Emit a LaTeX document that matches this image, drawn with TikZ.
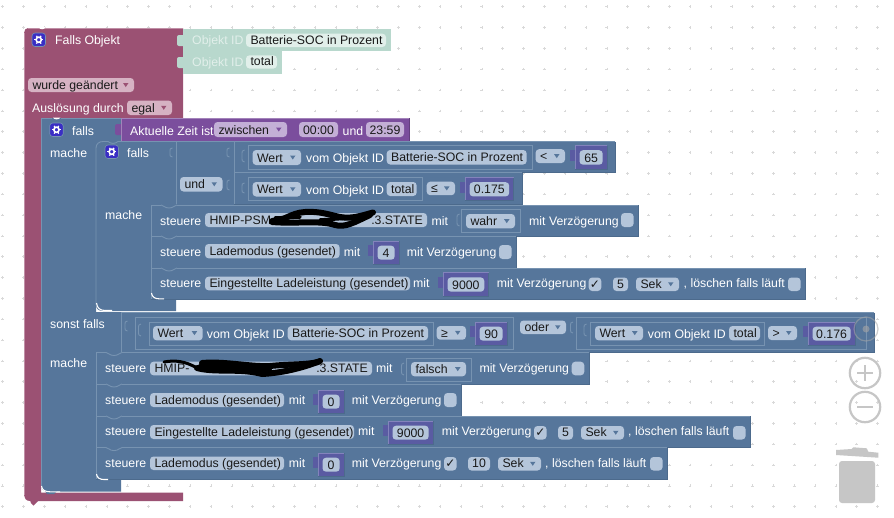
\documentclass[tikz,border=0pt]{standalone}
\usepackage{fontspec}
\setmainfont{Liberation Sans}
\newfontfamily\bkdejavu{DejaVu Sans}
\definecolor{bkblue}{HTML}{56769B}
\definecolor{bkhl}{HTML}{7793B1}
\definecolor{bkdk}{HTML}{4C6A8C}
\definecolor{bkmag}{HTML}{9B5173}
\definecolor{bkmaghl}{HTML}{C08FA6}
\definecolor{bkmint}{HTML}{B8D8CD}
\definecolor{bkmintp}{HTML}{E1EFEA}
\definecolor{bkpur}{HTML}{7B4E9D}
\definecolor{bkpurp}{HTML}{C3AFD6}
\definecolor{bknum}{HTML}{5A5BA2}
\definecolor{bknumhl}{HTML}{8383BC}
\definecolor{bkpill}{HTML}{B4C5DA}
\definecolor{bkpink}{HTML}{D6B2C3}
\definecolor{bkgear}{HTML}{3A2EC4}
\definecolor{bkgrey}{HTML}{C6C6C6}
\newcounter{bkn}
\tikzset{
  wtxt/.style={anchor=base west,inner sep=0pt,text=white,font=\fontsize{12.3}{14}\selectfont},
  ktxt/.style={anchor=base west,inner sep=0pt,text=black!90,font=\fontsize{12.3}{14}\selectfont},
  ctxt/.style={anchor=base,inner sep=0pt,text=black!90,font=\fontsize{12.3}{14}\selectfont},
  etxt/.style={anchor=base east,inner sep=0pt,text=black!90,font=\fontsize{12.3}{14}\selectfont},
  mtxt/.style={anchor=base west,inner sep=0pt,text=bkmintp,font=\fontsize{12.3}{14}\selectfont},
  hline/.style={draw=bkhl,line width=.9pt},
  dline/.style={draw=bkdk,line width=.9pt},
  scrib/.style={draw=black,line width=6pt,line cap=round,line join=round}
}
\newcommand\bkTxt[3]{\stepcounter{bkn}\node[wtxt] (t\arabic{bkn}) at (#1,#2) {#3};}
\newcommand\bkMint[3]{\stepcounter{bkn}\node[mtxt] (t\arabic{bkn}) at (#1,#2) {#3};}
\newcommand\bkEnd[3]{\stepcounter{bkn}\node[etxt] (t\arabic{bkn}) at (#1,#2) {#3};}
\newcommand\bkPill[6]{\fill[#6,rounded corners=3.5pt] (#1,#3) rectangle (#2,#4);
  \stepcounter{bkn}\node[ktxt] (t\arabic{bkn}) at (#1+4.3,#4-2.6) {#5};}
\newcommand\bkCtr[6]{\fill[#6,rounded corners=3.5pt] (#1,#3) rectangle (#2,#4);
  \stepcounter{bkn}\node[ctxt] (t\arabic{bkn}) at ({(#1+#2)/2},#4-2.6) {#5};}
\newcommand\bkDrop[7]{\bkPill{#1}{#2}{#3}{#4}{#5}{#6}
  \fill[#7] (#2-11,{(#3+#4)/2-2}) -- (#2-5.5,{(#3+#4)/2-2}) -- (#2-8.25,{(#3+#4)/2+2}) -- cycle;}
\newcommand\bkCheck[3]{\fill[bkpill,rounded corners=3.5pt] (#1,#2) rectangle (#1+12.6,#3);}
\newcommand\bkTick[3]{\bkCheck{#1}{#2}{#3}
  \stepcounter{bkn}\node[ctxt,font=\bkdejavu\fontsize{12}{14}\selectfont] (t\arabic{bkn}) at (#1+6.3,#3-2.6) {✓};}
\newcommand\bkBev[7]{\fill[#5] (#1,#2) rectangle (#3,#4);
  \draw[#6,line width=.9pt] (#1,#4) -- (#1,#2) -- (#3,#2);
  \draw[#7,line width=.9pt] (#3,#2) -- (#3,#4) -- (#1,#4);}
\newcommand\bkStmt[4]{\bkBev{#1}{#2}{#3}{#4}{bkblue}{bkhl}{bkdk}
  \draw[bkblue,line width=1.2pt] (#1+10,#2) -- (#1+26,#2);
  \draw[hline] (#1+10,#2) .. controls (#1+13,#2) and (#1+13,#2+3) .. (#1+18,#2+3) .. controls (#1+23,#2+3) and (#1+23,#2) .. (#1+26,#2);}
\newcommand\bkOut[4]{\draw[hline] (#1,#4) -- (#1,#2) -- (#3,#2) -- (#3,#4) -- cycle;}
\newcommand\bkSock[3]{\draw[hline] (#1,#2) .. controls (#1-2.5,#2) and (#1-2.5,#2+1) .. (#1-2.5,{(#2+#3)/2}) .. controls (#1-2.5,#3-1) and (#1-2.5,#3) .. (#1,#3);}
\newcommand\bkNum[5]{\fill[bknum] (#1-5.5,#3+4) rectangle (#1,#3+15);
  \bkBev{#1}{#3}{#2}{#4}{bknum}{bknumhl}{bkdk}
  \bkCtr{#1+4.5}{#2-4.3}{#3+4.7}{#4-4.3}{#5}{bkpill}}
\newcommand\bkGear[2]{\fill[bkgear,draw=bkhl,line width=.6pt,rounded corners=3pt] (#1,#2) rectangle (#1+13.5,#2+13.5);
  \draw[white,line width=1.6pt] (#1+6.75,#2+6.75) circle (2.6pt);
  \foreach \bka in {0,60,...,300}{\draw[white,line width=1.3pt] (#1+6.75,#2+6.75) ++(\bka:2.9pt) -- ++(\bka:1.6pt);}}
\begin{document}
\begin{tikzpicture}[x=1pt,y=-1pt]
\useasboundingbox (0,0) rectangle (894,517);
\fill[white] (0,0) rectangle (894,517);
\foreach \bki in {0,...,42}{\foreach \bkj in {0,...,24}{
  \draw[black!15,line width=.5pt] ({2.7+20.83*\bki-1.3},{6.7+20.83*\bkj}) -- ++(2.6,0) ({2.7+20.83*\bki},{6.7+20.83*\bkj-1.3}) -- ++(0,2.6);}}
% zoom controls and bin
\draw[bkgrey,line width=2.2pt] (865,373) circle (15.2pt);
\draw[bkgrey,line width=2.2pt] (865,407) circle (15.2pt);
\draw[bkgrey,line width=2.2pt] (857,373) -- (873,373) (865,365) -- (865,381);
\draw[bkgrey,line width=2.2pt] (857,407) -- (873,407);
\fill[bkgrey] (836,450) -- (851.7,449) -- (853.3,447.3) -- (866.7,448.3) -- (868.3,451.7) -- (878.3,452.7) -- (878.3,457.7) -- (836,455) -- cycle;
\fill[bkgrey,rounded corners=3pt] (839,461) -- (875,461) -- (875,503) -- (839,503) -- cycle;
% magenta hat block
\fill[bkmag] (30,500) -- (31,503) -- (33.5,505.5) -- (36,503) -- (39,500) -- cycle;
\fill[bkmag] (28,28) -- (183,28) -- (183,118) -- (41,118) -- (41,492.5) -- (183,492.5) -- (183,501) -- (30,501) .. controls (26,501) and (24,498) .. (24,495) -- (24,33) .. controls (24,30) and (26,28) .. (28,28) -- cycle;
\draw[bkmaghl,line width=.7pt] (28,28) -- (183,28);
\draw[bkmaghl,line width=.7pt] (24,33) -- (24,495);
\fill[white] (38.5,27) .. controls (40,30) and (44,30) .. (46,27) -- cycle;
\bkGear{32}{33}
\bkTxt{55}{44.8}{Falls Objekt}
\bkDrop{28}{134}{78}{92}{wurde geändert}{bkpink}{bkmag}
\bkTxt{32}{112}{Auslösung durch}
\bkDrop{127}{172}{100.5}{115}{egal}{bkpink}{bkmag}
% mint value blocks
\fill[bkmint,rounded corners=2pt] (177,35) rectangle (185,46);
\fill[bkmint,rounded corners=2pt] (177,57) rectangle (185,68);
\fill[bkmint] (183,29) rectangle (391,51);
\fill[bkmint] (183,51) rectangle (282,73.5);
\bkMint{192}{44.8}{Objekt ID}
\bkMint{192}{66.5}{Objekt ID}
\bkPill{246}{386}{33.7}{47}{Batterie-SOC in Prozent}{bkmintp}
\bkPill{246}{277}{55.3}{68.5}{total}{bkmintp}
% outer falls block
\fill[bkblue] (41,118) -- (121,118) -- (121,141) -- (96,141) -- (96,312) -- (121,312) -- (121,352) -- (96,352) -- (96,480) -- (121,480) -- (121,491.5) -- (48,491.5) .. controls (43,491.5) and (41,489) .. (41,485) -- cycle;
\fill[bkblue] (45,491) -- (47,494) -- (54,494) -- (57,491) -- cycle;
\draw[hline] (41,487) -- (41,118) -- (52,118);
\draw[hline] (61,118) -- (121,118);
\fill[white] (53,117.5) .. controls (54,120) and (59,120) .. (60.5,117.5) -- cycle;
\draw[white,line width=1.1pt] (41.5,486) .. controls (42,490) and (45,491.8) .. (50,491.8) -- (60,491.8);
\bkGear{49.7}{123}
\bkTxt{72}{135}{falls}
\bkTxt{50}{157}{mache}
\bkTxt{50}{328}{sonst falls}
\bkTxt{50}{367}{mache}
% purple time block
\fill[bkpur,rounded corners=1.5pt] (115,124) rectangle (123,135);
\bkBev{121}{118}{409}{141.5}{bkpur}{bkpur!70!white}{bkpur!80!black}
\bkTxt{130}{135}{Aktuelle Zeit ist}
\bkDrop{214}{287}{122}{137}{zwischen}{bkpurp}{bkpur}
\bkCtr{299}{338}{122}{137}{00:00}{bkpurp}
\bkTxt{342.5}{135}{und}
\bkCtr{366}{404}{122}{137}{23:59}{bkpurp}
% inner falls block
\fill[bkblue] (96,141) -- (234,141) -- (234,205) -- (151,205) -- (151,299) -- (176,299) -- (176,311) -- (103,311) .. controls (99,311) and (96,309) .. (96,305) -- cycle;
\draw[hline] (96,305) -- (96,148) .. controls (96,144) and (99,141.5) .. (103,141.5) -- (108,141.5) .. controls (111,144) and (115,144) .. (118,141.5) -- (234,141.5);
\draw[hline] (176,141.5) -- (176,205) -- (151,205);
\draw[hline] (234,141.5) -- (234,205);
\draw[white,line width=1.1pt] (96.5,303) .. controls (97,308) and (100,310.5) .. (105,310.5) -- (112,310.5);
\bkGear{105}{145}
\bkTxt{127}{157}{falls}
\bkTxt{105}{219}{mache}
\bkSock{172.5}{148}{157}
\bkDrop{180}{222.5}{177}{191.5}{und}{bkpill}{bkblue}
\bkSock{229.5}{148}{157}
\bkSock{229.5}{180}{190}
% comparison 1
\bkBev{234}{141.5}{615}{172.5}{bkblue}{bkhl}{bkdk}
\bkOut{248}{145.5}{532}{169}
\bkSock{244.5}{150}{162}
\bkDrop{252.6}{301}{150}{165}{Wert}{bkpill}{bkblue}
\bkTxt{306}{162.5}{vom Objekt ID}
\bkPill{386.7}{526.7}{150}{164.5}{Batterie-SOC in Prozent}{bkpill}
\bkDrop{535.6}{565}{149.2}{163}{<}{bkpill}{bkblue}
\bkNum{575}{607}{145.5}{169}{65}
% comparison 2
\bkBev{234}{172.5}{522}{204.5}{bkblue}{bkhl}{bkdk}
\bkOut{248}{177.5}{422.7}{200.7}
\bkSock{244.5}{183}{193}
\bkDrop{252.6}{301}{182}{196.5}{Wert}{bkpill}{bkblue}
\bkTxt{306}{194.5}{vom Objekt ID}
\bkPill{386.7}{416.7}{182}{196}{total}{bkpill}
\bkDrop{426.7}{455}{181.7}{195.2}{≤}{bkpill}{bkblue}
\bkNum{465}{513.5}{177.5}{200.7}{0.175}
% statements, upper
\bkStmt{151}{205}{638}{236}
\bkTxt{160}{225}{steuere}
\bkPill{205}{427}{213}{227}{HMIP-PSM}{bkpill}
\bkEnd{423}{224.4}{.3.STATE}
\bkTxt{431.5}{225}{mit}
\bkSock{459.5}{214}{226}
\bkOut{461.7}{209}{520}{232}
\bkDrop{466}{515}{214}{228.3}{wahr}{bkpill}{bkblue}
\bkTxt{529}{225}{mit Verzögerung}
\bkCheck{621}{213}{227}
\bkStmt{151}{236}{516}{268}
\bkTxt{160}{256}{steuere}
\bkPill{205}{339.6}{244}{258.3}{Lademodus (gesendet)}{bkpill}
\bkTxt{343.6}{256}{mit}
\bkNum{373}{399}{241}{264}{4}
\bkTxt{406.6}{256}{mit Verzögerung}
\bkCheck{499}{245}{259}
\bkStmt{151}{268}{805}{299}
\bkTxt{160}{287.7}{steuere}
\bkPill{205}{410}{276.7}{290.3}{Eingestellte Ladeleistung (gesendet)}{bkpill}
\bkTxt{413}{287.7}{mit}
\bkNum{443}{488.6}{272.7}{296}{9000}
\bkTxt{496.6}{287.7}{mit Verzögerung}
\bkTick{588.7}{277.5}{291}
\bkCtr{613}{628}{277.5}{291}{5}{bkpill}
\bkDrop{636}{679}{277.5}{291}{Sek}{bkpill}{bkblue}
\bkTxt{683.5}{287.7}{, löschen falls läuft}
\bkCheck{788}{277.5}{291}
\draw[white,line width=1.1pt] (151.5,293) .. controls (152,297) and (155,298.8) .. (159,298.8) -- (164,298.8);
% sonst falls value
\bkBev{121}{312.5}{874}{352.5}{bkblue}{bkhl}{bkdk}
\bkSock{127.5}{321}{331}
\bkOut{135}{317.3}{513}{349.7}
\bkSock{141}{324}{336}
\bkOut{149.3}{322}{433.3}{345}
\bkDrop{153}{202.7}{326}{340.3}{Wert}{bkpill}{bkblue}
\bkTxt{206.7}{338}{vom Objekt ID}
\bkPill{287.7}{428}{326}{340.3}{Batterie-SOC in Prozent}{bkpill}
\bkDrop{436.7}{466}{326}{339.7}{≥}{bkpill}{bkblue}
\bkNum{475}{507}{322}{345}{90}
\bkDrop{520}{566}{320.5}{334}{oder}{bkpill}{bkblue}
\bkSock{573}{322}{333}
\bkOut{576}{317.3}{866}{349.7}
\bkSock{586.5}{324}{336}
\bkOut{590}{322}{764.7}{345}
\bkDrop{595}{643}{326}{340.3}{Wert}{bkpill}{bkblue}
\bkTxt{647.7}{338}{vom Objekt ID}
\bkPill{729}{760}{326}{340.3}{total}{bkpill}
\bkDrop{768}{797}{326}{340}{>}{bkpill}{bkblue}
\bkNum{808}{855}{322}{345}{0.176}
% statements, lower
\bkStmt{96}{352.5}{589}{384}
\bkTxt{105}{372.7}{steuere}
\bkPill{150}{372}{361.7}{375.3}{HMIP-}{bkpill}
\bkEnd{368}{372.7}{.3.STATE}
\bkTxt{376}{372.7}{mit}
\bkSock{404}{363}{375}
\bkOut{406}{358}{471}{381}
\bkDrop{411}{466}{362}{376.3}{falsch}{bkpill}{bkblue}
\bkTxt{479.3}{372.7}{mit Verzögerung}
\bkCheck{571.7}{361.7}{375.3}
\bkStmt{96}{384}{461}{416}
\bkTxt{105}{404}{steuere}
\bkPill{150}{284}{393}{407}{Lademodus (gesendet)}{bkpill}
\bkTxt{288.6}{404}{mit}
\bkNum{318}{344}{390}{413}{0}
\bkTxt{351.6}{404}{mit Verzögerung}
\bkCheck{444}{393}{407}
\bkStmt{96}{416}{750}{447.6}
\bkTxt{105}{435.6}{steuere}
\bkPill{150}{354}{425}{439}{Eingestellte Ladeleistung (gesendet)}{bkpill}
\bkTxt{358}{435.6}{mit}
\bkNum{388}{433}{421}{444}{9000}
\bkTxt{441.6}{435.6}{mit Verzögerung}
\bkTick{534}{426}{439.5}
\bkCtr{558}{573}{426}{439.5}{5}{bkpill}
\bkDrop{581}{624}{426}{439.5}{Sek}{bkpill}{bkblue}
\bkTxt{628}{435.6}{, löschen falls läuft}
\bkCheck{733}{426}{439.5}
\bkStmt{96}{447.6}{667}{479.8}
\bkTxt{105}{467.3}{steuere}
\bkPill{150}{284}{456.5}{470}{Lademodus (gesendet)}{bkpill}
\bkTxt{288.6}{467.3}{mit}
\bkNum{318}{344}{453}{476}{0}
\bkTxt{351.6}{467.3}{mit Verzögerung}
\bkTick{444}{457}{470.5}
\bkCtr{468}{490}{457}{470.5}{10}{bkpill}
\bkDrop{498}{541}{457}{470.5}{Sek}{bkpill}{bkblue}
\bkTxt{545}{467.3}{, löschen falls läuft}
\bkCheck{650}{457}{470.5}
\draw[white,line width=1.1pt] (96.5,474) .. controls (97,478) and (100,479.5) .. (104,479.5) -- (108,479.5);
% scribbles
\fill[bkpill] (270,214) rectangle (372,226);
\draw[scrib] (272,221) .. controls (285,221) and (290,213) .. (305,212) .. controls (320,211) and (330,215) .. (340,217) .. controls (352,219) and (360,216) .. (373,212.5);
\draw[scrib] (272,222) .. controls (295,224) and (320,220) .. (335,225) .. controls (345,228) and (355,222) .. (370,215);
\draw[scrib,line width=3.5pt] (275,218) -- (300,217) (320,220) -- (350,218);
\fill[bkpill] (193,363) rectangle (316,375);
\draw[scrib,line width=3pt] (164,362) .. controls (175,360) and (185,361) .. (197,368);
\draw[scrib] (197,368) .. controls (215,373) and (240,368) .. (262,374) .. controls (280,373) and (300,369) .. (320,361);
\draw[scrib] (202,363) .. controls (225,361) and (250,367) .. (270,366) .. controls (290,364) and (305,365) .. (318,362);
\draw[scrib,line width=4pt] (200,366) -- (270,370);
% faint target overlay
\draw[black!35,opacity=.55,line width=1.2pt] (866,329) circle (12pt);
\fill[black!35,opacity=.6] (866,329) circle (3.5pt);
\end{tikzpicture}
\end{document}
